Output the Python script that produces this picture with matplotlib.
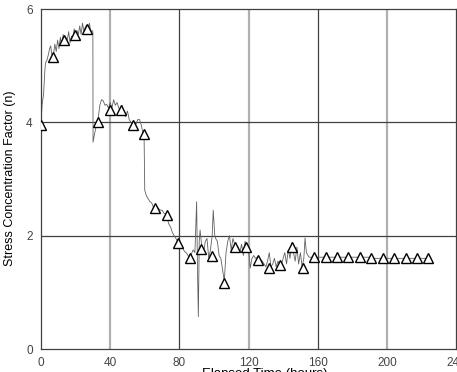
import numpy as np
import matplotlib.pyplot as plt

plt.rcParams['font.family'] = ['Liberation Sans', 'DejaVu Sans']

# measured trace (hours, n)
t_line = [0, 0.6, 1.5, 2.2, 2.6, 3.5, 4.3, 5.0, 5.6, 6.2, 7.0, 8.0, 8.8, 9.6, 10.4, 11.2, 12.0,
          12.8, 13.6, 14.4, 15.2, 16.0, 16.8, 17.6, 18.4, 19.2, 20.0, 20.8, 21.6, 22.4, 23.2, 24.0,
          24.8, 25.6, 26.4, 27.2, 28.0, 28.8, 29.6, 30.0, 30.1, 31, 32, 33, 34, 35, 36, 37, 38, 39,
          40, 41, 42, 43, 44, 45, 46, 47, 48, 49, 50, 51, 52, 53, 54, 55, 56, 57, 58, 59, 59.6, 60,
          61, 62, 63, 64, 65, 66, 67, 68, 69, 70, 71, 72, 73, 74, 75, 76, 77, 78, 79, 80, 81, 82,
          83, 84, 85, 86, 87, 88, 89, 90, 90.5, 91, 91.5, 92, 93, 94, 95, 96, 97, 98, 99, 99.6,
          100.5, 101, 102, 103, 104, 105, 106, 107, 108, 109, 110, 111, 112, 113, 114, 115, 116,
          117, 118, 119, 120, 121, 122, 123, 124, 125, 126, 127, 128, 129, 130, 131, 132, 133,
          134, 135, 136, 137, 138, 139, 140, 141, 142, 143, 144, 145, 146, 147, 148, 149, 150,
          151, 152, 152.7, 153.5, 155, 190, 192, 224]
n_line = [3.95, 4.3, 4.5, 4.9, 5.05, 5.1, 5.2, 5.3, 5.35, 5.2, 5.15, 5.38, 5.25, 5.45, 5.3, 5.5,
          5.35, 5.55, 5.42, 5.5, 5.45, 5.6, 5.4, 5.52, 5.5, 5.65, 5.48, 5.62, 5.55, 5.7, 5.55, 5.75,
          5.6, 5.68, 5.72, 5.6, 5.75, 5.6, 5.62, 5.6, 3.65, 3.8, 3.95, 4.05, 4.3, 4.4, 4.38, 4.3,
          4.32, 4.25, 4.35, 4.25, 4.4, 4.3, 4.35, 4.25, 4.2, 4.3, 4.15, 4.1, 4.2, 4.05, 4.0, 3.98,
          4.0, 3.97, 4.05, 4.05, 3.95, 3.8, 3.78, 2.8, 2.7, 2.65, 2.6, 2.58, 2.5, 2.5, 2.52, 2.48,
          2.45, 2.45, 2.4, 2.38, 2.3, 2.2, 2.15, 2.05, 2.0, 1.95, 1.9, 1.85, 1.8, 1.78, 1.72, 1.7,
          1.65, 1.6, 1.68, 1.75, 1.7, 2.6, 1.4, 0.57, 1.9, 2.1, 1.8, 1.7, 1.9, 1.95, 1.6, 1.75, 2.0,
          2.45, 2.0, 1.95, 1.9, 1.65, 1.6, 1.4, 1.2, 1.7, 1.9, 2.0, 1.75, 1.95, 1.85, 1.7, 1.8,
          1.7, 1.85, 1.65, 1.9, 1.8, 1.75, 1.43, 1.6, 1.65, 1.6, 1.62, 1.6, 1.58, 1.55, 1.5, 1.45,
          1.55, 1.7, 1.45, 1.5, 1.6, 1.45, 1.55, 1.5, 1.48, 1.6, 1.7, 1.5, 1.75, 1.6, 1.87, 1.7,
          1.55, 1.8, 1.5, 1.7, 1.45, 1.6, 1.96, 1.7, 1.62, 1.62, 1.6, 1.6]

# triangle markers
t_mark = [0, 7, 13.3, 19.7, 26.6, 33, 40, 46, 53, 59.6, 66, 72.9, 79, 86, 92.5, 99, 106, 112,
          118.6, 125.5, 132, 138, 145, 151.5, 158, 164.6, 171.2, 177.8, 184.4, 191, 197.6, 204.2,
          210.8, 217.4, 224]
n_mark = [3.95, 5.15, 5.45, 5.54, 5.65, 4.0, 4.22, 4.22, 3.95, 3.79, 2.49, 2.36, 1.87, 1.6,
          1.76, 1.64, 1.16, 1.8, 1.8, 1.57, 1.43, 1.48, 1.8, 1.43, 1.62, 1.62, 1.62, 1.62, 1.62,
          1.6, 1.6, 1.6, 1.6, 1.6, 1.6]

fig = plt.figure(figsize=(4.57, 3.72), dpi=100)
ax = fig.add_axes([41/457, 23/372, 415/457, 340/372])

for xv, c, lw in [(40, '#b0b0b0', 1.6), (80, '#404040', 0.9), (120, '#b0b0b0', 1.6),
                  (160, '#404040', 0.9), (200, '#b0b0b0', 1.6)]:
    ax.axvline(xv, color=c, lw=lw, zorder=0)
for yv in [2, 4]:
    ax.axhline(yv, color='#404040', lw=0.9, zorder=0)

ax.plot(t_line, n_line, color='#606060', lw=0.6, zorder=2)
ax.plot(t_mark, n_mark, ls='none', marker='^', ms=6.5, mfc='white', mec='black', mew=1.0, zorder=3)

ax.set_xlim(0, 240)
ax.set_ylim(0, 6)
ax.set_xticks([0, 40, 80, 120, 160, 200, 240])
ax.set_yticks([0, 2, 4, 6])
ax.tick_params(length=0, labelsize=8.5, pad=6, colors='#444444')
for s in ax.spines.values():
    s.set_color('#404040')
    s.set_linewidth(0.9)

fig.text(10/457, 1 - 178/372, 'Stress Concentration Factor (n)', rotation=90,
         ha='center', va='center', fontsize=9)
fig.text(265/457, -2/372, 'Elapsed Time (hours)', ha='center', va='center', fontsize=9.5)

fig.savefig('out.png', dpi=100)
